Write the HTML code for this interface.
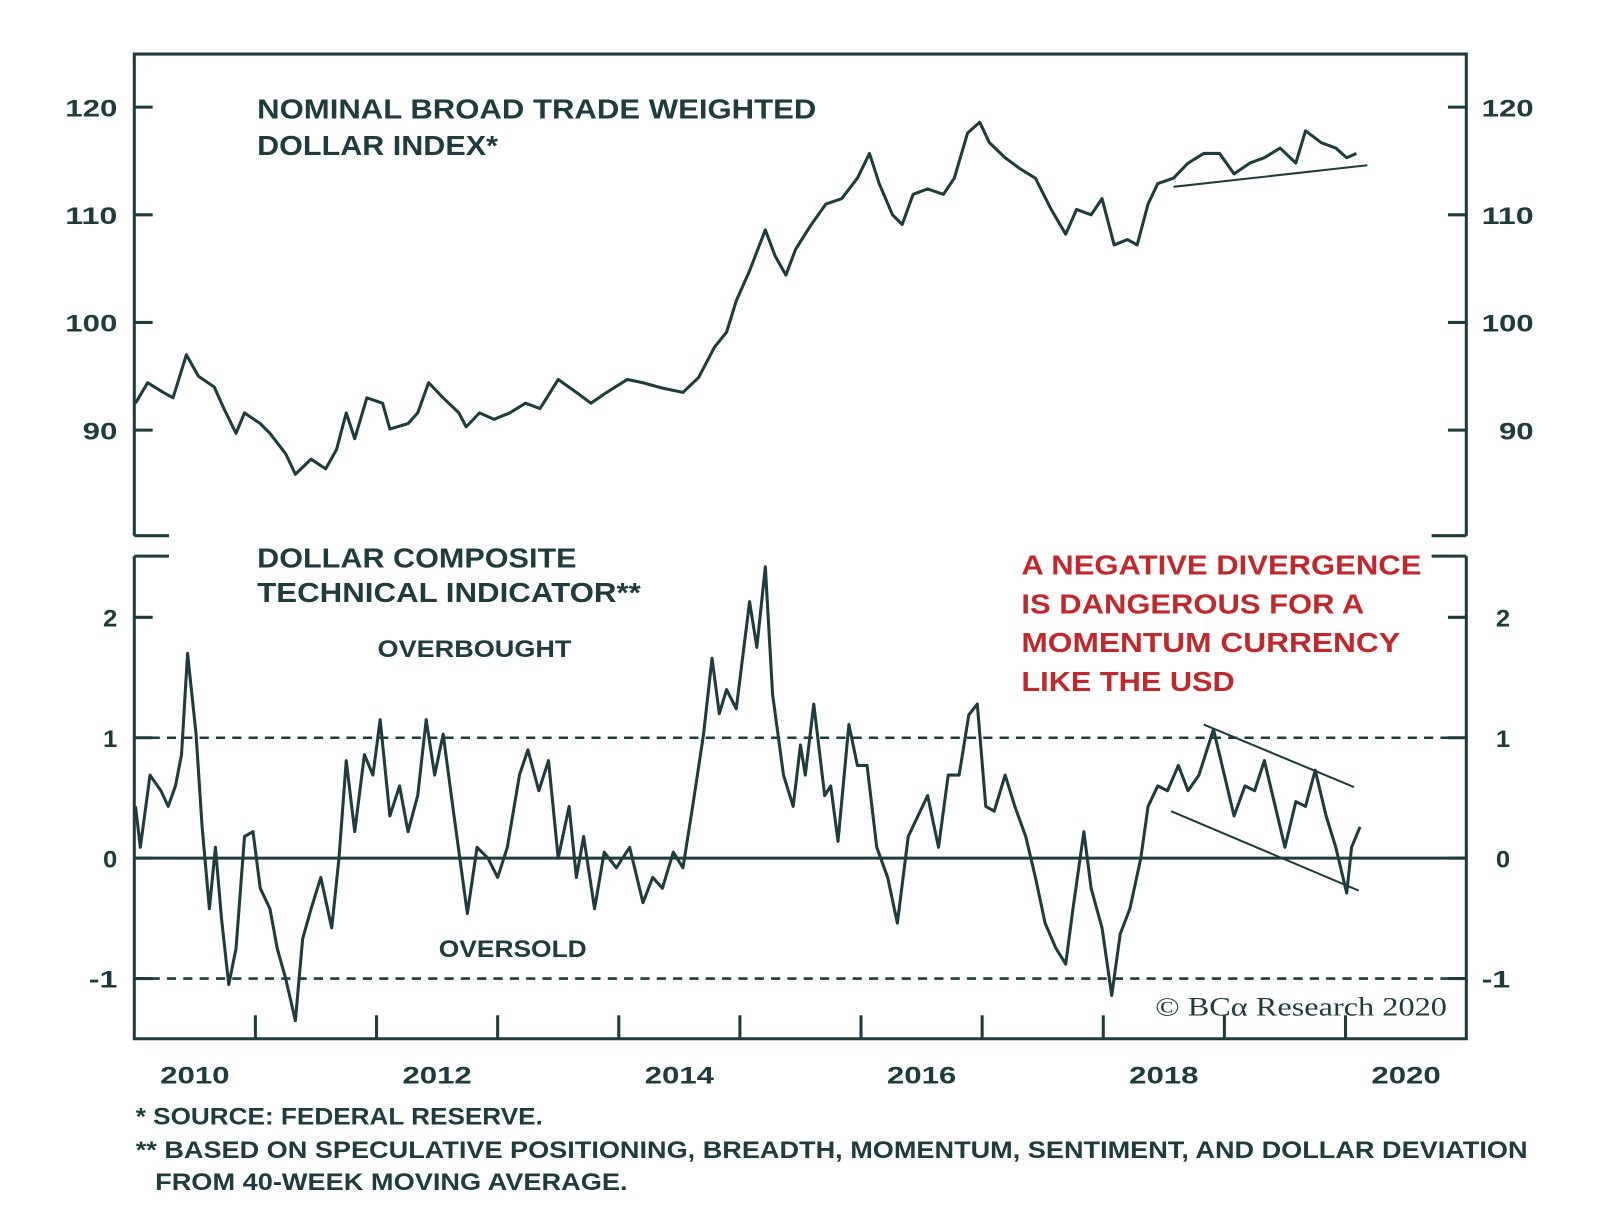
<!DOCTYPE html>
<html><head><meta charset="utf-8">
<style>
body{margin:0;background:#fff;}
svg{display:block;font-family:"Liberation Sans",sans-serif;}
.lbl{font-weight:bold;fill:#1f3b3b;}
</style></head>
<body>
<svg width="1600" height="1232" viewBox="0 0 1600 1232">
<g transform="scale(1.0204)">
<g id="frame"></g>
<g id="axes"></g>
<g id="series"></g>
<text class="lbl" x="252" y="116" font-size="27" textLength="548" lengthAdjust="spacingAndGlyphs">NOMINAL BROAD TRADE WEIGHTED</text>
<text class="lbl" x="252" y="152" font-size="27" textLength="236" lengthAdjust="spacingAndGlyphs">DOLLAR INDEX*</text>
<text class="lbl" x="252" y="556" font-size="27" textLength="313" lengthAdjust="spacingAndGlyphs">DOLLAR COMPOSITE</text>
<text class="lbl" x="252" y="590" font-size="27" textLength="376" lengthAdjust="spacingAndGlyphs">TECHNICAL INDICATOR**</text>
<text class="lbl" x="370" y="644" font-size="24" textLength="190" lengthAdjust="spacingAndGlyphs">OVERBOUGHT</text>
<text class="lbl" x="430" y="938" font-size="24" textLength="145" lengthAdjust="spacingAndGlyphs">OVERSOLD</text>
<g font-size="27" font-weight="bold" fill="#c0282d">
<text x="1001" y="563" textLength="392" lengthAdjust="spacingAndGlyphs">A NEGATIVE DIVERGENCE</text>
<text x="1001" y="601" textLength="336" lengthAdjust="spacingAndGlyphs">IS DANGEROUS FOR A</text>
<text x="1001" y="639" textLength="371" lengthAdjust="spacingAndGlyphs">MOMENTUM CURRENCY</text>
<text x="1001" y="677" textLength="209" lengthAdjust="spacingAndGlyphs">LIKE THE USD</text>
</g>
<text x="1132" y="995" font-size="26" fill="#1f3b3b" font-family="Liberation Serif,serif" textLength="286" lengthAdjust="spacingAndGlyphs">© BCα Research 2020</text>
<g class="lbl" font-size="24">
<text x="133" y="1102" textLength="399" lengthAdjust="spacingAndGlyphs">*  SOURCE: FEDERAL RESERVE.</text>
<text x="133" y="1135" textLength="1364" lengthAdjust="spacingAndGlyphs">** BASED ON SPECULATIVE POSITIONING, BREADTH, MOMENTUM, SENTIMENT, AND DOLLAR DEVIATION</text>
<text x="152" y="1166" textLength="463" lengthAdjust="spacingAndGlyphs">FROM 40-WEEK MOVING AVERAGE.</text>
</g>
</g>
</svg>
<script>
const topDates=[2010.01,2010.11,2010.24,2010.32,2010.43,2010.53,2010.66,2010.74,2010.84,2010.91,2011.04,2011.12,2011.25,2011.33,2011.46,2011.58,2011.67,2011.75,2011.82,2011.92,2012.05,2012.11,2012.26,2012.34,2012.43,2012.55,2012.68,2012.74,2012.85,2012.97,2013.10,2013.23,2013.35,2013.50,2013.65,2013.77,2013.90,2014.07,2014.20,2014.36,2014.53,2014.66,2014.79,2014.89,2014.97,2015.08,2015.21,2015.29,2015.38,2015.46,2015.59,2015.71,2015.84,2015.97,2016.07,2016.15,2016.26,2016.34,2016.43,2016.55,2016.68,2016.77,2016.88,2016.98,2017.06,2017.19,2017.31,2017.44,2017.57,2017.69,2017.78,2017.90,2017.99,2018.09,2018.20,2018.28,2018.37,2018.45,2018.58,2018.70,2018.83,2018.96,2019.08,2019.21,2019.33,2019.46,2019.59,2019.67,2019.80,2019.92,2020.01,2020.09];
const topValues=[92.5,94.4,93.5,93,97,95,94,92,89.7,91.6,90.6,89.7,87.8,85.9,87.3,86.4,88.2,91.6,89.2,93,92.5,90.1,90.6,91.6,94.4,93,91.6,90.3,91.6,91,91.6,92.5,92,94.7,93.5,92.5,93.5,94.7,94.4,93.9,93.5,94.9,97.7,99.1,102,104.8,108.6,106.2,104.4,106.8,109.1,111,111.5,113.4,115.7,112.9,110,109.1,111.9,112.4,111.9,113.4,117.6,118.6,116.7,115.3,114.3,113.4,110.5,108.2,110.5,110,111.5,107.2,107.7,107.2,111,112.9,113.4,114.8,115.7,115.7,113.8,114.8,115.3,116.2,114.8,117.8,116.7,116.2,115.3,115.7];
const botDates=[2010.01,2010.05,2010.13,2010.22,2010.28,2010.34,2010.39,2010.44,2010.51,2010.56,2010.62,2010.67,2010.72,2010.78,2010.84,2010.91,2010.98,2011.04,2011.12,2011.18,2011.25,2011.33,2011.39,2011.46,2011.54,2011.63,2011.69,2011.75,2011.82,2011.90,2011.97,2012.03,2012.11,2012.19,2012.26,2012.34,2012.41,2012.48,2012.55,2012.64,2012.75,2012.83,2012.92,2013.00,2013.08,2013.18,2013.25,2013.34,2013.42,2013.50,2013.59,2013.65,2013.71,2013.80,2013.88,2013.98,2014.09,2014.20,2014.28,2014.36,2014.45,2014.53,2014.61,2014.70,2014.77,2014.83,2014.89,2014.97,2015.08,2015.14,2015.21,2015.27,2015.36,2015.44,2015.50,2015.54,2015.61,2015.70,2015.75,2015.81,2015.90,2015.97,2016.05,2016.13,2016.22,2016.30,2016.39,2016.47,2016.55,2016.64,2016.72,2016.81,2016.89,2016.96,2017.03,2017.10,2017.19,2017.27,2017.36,2017.44,2017.52,2017.61,2017.69,2017.75,2017.84,2017.90,2017.99,2018.07,2018.14,2018.22,2018.31,2018.37,2018.45,2018.53,2018.62,2018.70,2018.79,2018.91,2019.00,2019.08,2019.17,2019.25,2019.33,2019.42,2019.50,2019.59,2019.67,2019.75,2019.84,2019.92,2020.01,2020.05,2020.12];
const botValues=[0.43,0.09,0.69,0.56,0.43,0.6,0.86,1.7,1.03,0.26,-0.42,0.09,-0.5,-1.05,-0.75,0.18,0.22,-0.25,-0.42,-0.75,-1.0,-1.35,-0.67,-0.42,-0.16,-0.58,0.0,0.81,0.22,0.86,0.69,1.15,0.35,0.6,0.22,0.52,1.15,0.69,1.03,0.35,-0.46,0.09,0.0,-0.16,0.09,0.69,0.9,0.56,0.81,0.0,0.43,-0.16,0.18,-0.42,0.05,-0.08,0.09,-0.37,-0.16,-0.25,0.05,-0.08,0.43,1.03,1.66,1.2,1.4,1.24,2.13,1.75,2.42,1.36,0.69,0.43,0.94,0.69,1.28,0.52,0.6,0.14,1.11,0.77,0.77,0.09,-0.16,-0.54,0.18,0.35,0.52,0.09,0.69,0.69,1.19,1.28,0.43,0.39,0.69,0.43,0.18,-0.16,-0.54,-0.75,-0.88,-0.42,0.22,-0.25,-0.58,-1.14,-0.63,-0.42,0.0,0.43,0.6,0.56,0.77,0.56,0.69,1.07,0.69,0.35,0.6,0.56,0.81,0.43,0.09,0.47,0.43,0.73,0.35,0.09,-0.29,0.09,0.26];
const topTicks=[90,100,110,120];
const botTicks=[-1,0,1,2];
const yearTicks=[2011,2012,2013,2014,2015,2016,2017,2018,2019,2020];
const yearLabels=[2010,2012,2014,2016,2018,2020];
const topTrend=[[2018.58,112.6],[2020.18,114.6]];
const botUpper=[[2018.83,1.11],[2020.07,0.59]];
const botLower=[[2018.56,0.39],[2020.11,-0.27]];

const L=131.6,R=1437,C='#1f3b3b',NS='http://www.w3.org/2000/svg';
const xs=d=>L+(d-2010)*118.7;
const yt=v=>105+(120-v)*10.55;
const yb=v=>841-v*118;
function mk(parent,tag,attrs){const e=document.createElementNS(NS,tag);for(const k in attrs)e.setAttribute(k,attrs[k]);document.getElementById(parent).appendChild(e);return e;}
let e;
e=mk('frame','path',{d:`M${L},525 V53 H${R} V525 M${L},545 V1018 H${R} V545 M${L},525 h34 M${R},525 h-34 M${L},545 h34 M${R},545 h-34`,fill:'none',stroke:C,'stroke-width':3});


function lab(parent,x,y,txt,anchor,len){
 const t=mk(parent,'text',{x:x,y:y,'text-anchor':anchor,'font-size':24,'font-weight':'bold',fill:C,textLength:len,lengthAdjust:'spacingAndGlyphs'});
 t.textContent=txt;return t;
}
topTicks.forEach(v=>{
 const y=yt(v);
 e=mk('axes','path',{d:`M${L},${y}h18M${R},${y}h-18`,stroke:C,'stroke-width':3});
 
 
 e=lab('axes',115,y+9,String(v),'end',String(v).length*17);
 
 
 e=lab('axes',1503,y+9,String(v),'end',String(v).length*17);
 
 
});
botTicks.forEach(v=>{
 const y=yb(v);
 e=mk('axes','path',{d:`M${L},${y}h18M${R},${y}h-18`,stroke:C,'stroke-width':3});
 
 
 e=lab('axes',115,y+9,String(v),'end',String(v).length*14);
 
 
 e=lab('axes',1480,y+9,String(v),'end',String(v).length*14);
 
 
});
e=mk('axes','line',{x1:L,x2:R,y1:yb(0),y2:yb(0),stroke:C,'stroke-width':3});


[1,-1].forEach(v=>{
 e=mk('axes','line',{x1:L,x2:R,y1:yb(v),y2:yb(v),stroke:C,'stroke-width':2.5,'stroke-dasharray':'9,7'});
 
 
});
yearTicks.forEach(d=>{
 e=mk('axes','line',{x1:xs(d),x2:xs(d),y1:1018,y2:995,stroke:C,'stroke-width':3});
 
 
});
yearLabels.forEach(d=>{
 e=lab('axes',xs(d+0.5),1062,String(d),'middle',68);
 
 
});
e=mk('series','polyline',{points:topDates.map((d,i)=>xs(d)+','+yt(topValues[i])).join(' '),fill:'none',stroke:C,'stroke-width':3,'stroke-linejoin':'round'});


e=mk('series','polyline',{points:botDates.map((d,i)=>xs(d)+','+yb(botValues[i])).join(' '),fill:'none',stroke:C,'stroke-width':3,'stroke-linejoin':'round'});


e=mk('series','line',{x1:xs(topTrend[0][0]),y1:yt(topTrend[0][1]),x2:xs(topTrend[1][0]),y2:yt(topTrend[1][1]),stroke:C,'stroke-width':2});


[botUpper,botLower].forEach(t=>{
 e=mk('series','line',{x1:xs(t[0][0]),y1:yb(t[0][1]),x2:xs(t[1][0]),y2:yb(t[1][1]),stroke:C,'stroke-width':2});
 
 
});
</script>
</body></html>
